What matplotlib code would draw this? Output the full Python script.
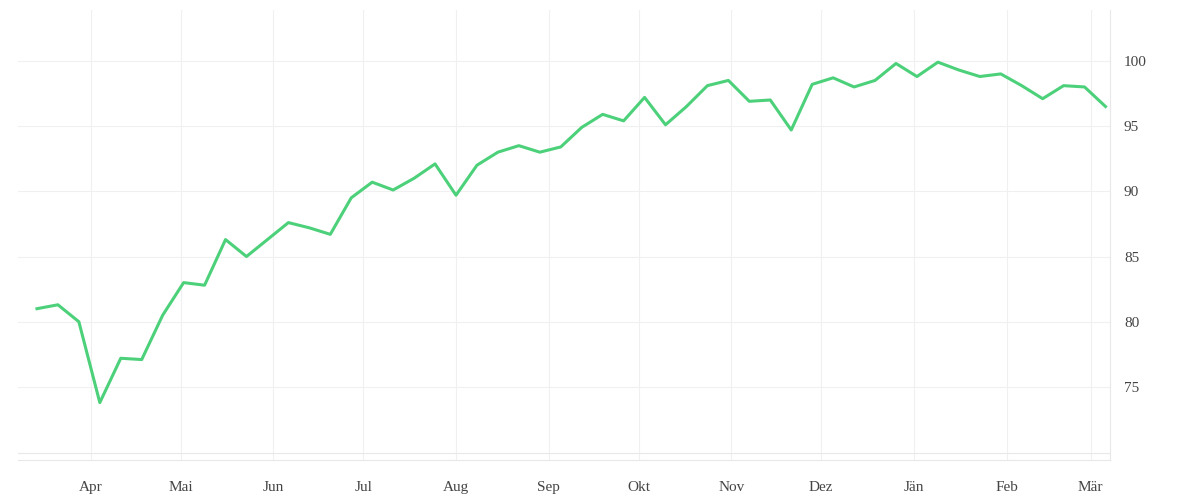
import pandas as pd
import matplotlib
matplotlib.use("Agg")
import matplotlib.pyplot as plt

# weekly values
start = "2020-03-14"
values = [81.0, 81.3, 80.0, 73.8, 77.2, 77.1, 80.5, 83.0, 82.8, 86.3,
          85.0, 86.3, 87.6, 87.2, 86.7, 89.5, 90.7, 90.1, 91.0, 92.1,
          89.7, 92.0, 93.0, 93.5, 93.0, 93.4, 94.9, 95.9, 95.4, 97.2,
          95.1, 96.5, 98.1, 98.5, 96.9, 97.0, 94.7, 98.2, 98.7, 98.0,
          98.5, 99.8, 98.8, 99.9, 99.3, 98.8, 99.0, 98.1, 97.1, 98.1,
          98.0, 96.5]
dates = pd.date_range(start, periods=len(values), freq="7D")
month_labels = ["Apr", "Mai", "Jun", "Jul", "Aug", "Sep", "Okt", "Nov",
                "Dez", "Jän", "Feb", "Mär"]
month_ticks = pd.date_range("2020-04-01", periods=12, freq="MS")
y_ticks = [75, 80, 85, 90, 95, 100]

plt.rcParams["font.family"] = ["Liberation Serif", "DejaVu Serif"]
fig = plt.figure(figsize=(12, 5), dpi=100)
ax = fig.add_axes([0.015, 0.08, 0.91, 0.9])

ax.plot(dates, values, color="#4cd17a", lw=2.2)

ax.set_xlim(pd.Timestamp("2020-03-07 16:00"), pd.Timestamp("2021-03-07 12:00"))
ax.set_ylim(69.4, 103.9)
ax.set_xticks(month_ticks)
ax.set_xticklabels(month_labels)
ax.set_yticks(y_ticks)
ax.yaxis.tick_right()
ax.tick_params(axis="x", length=0, labelsize=11, colors="#444444", pad=15)
ax.tick_params(axis="y", length=0, labelsize=11, colors="#444444", pad=10)
ax.grid(True, color="#f0f0f0", lw=0.8)
ax.axhline(69.9, color="#e8e8e8", lw=0.8)
for s in ["top", "left"]:
    ax.spines[s].set_visible(False)
for s in ["bottom", "right"]:
    ax.spines[s].set_color("#e8e8e8")

fig.savefig("out.png")
